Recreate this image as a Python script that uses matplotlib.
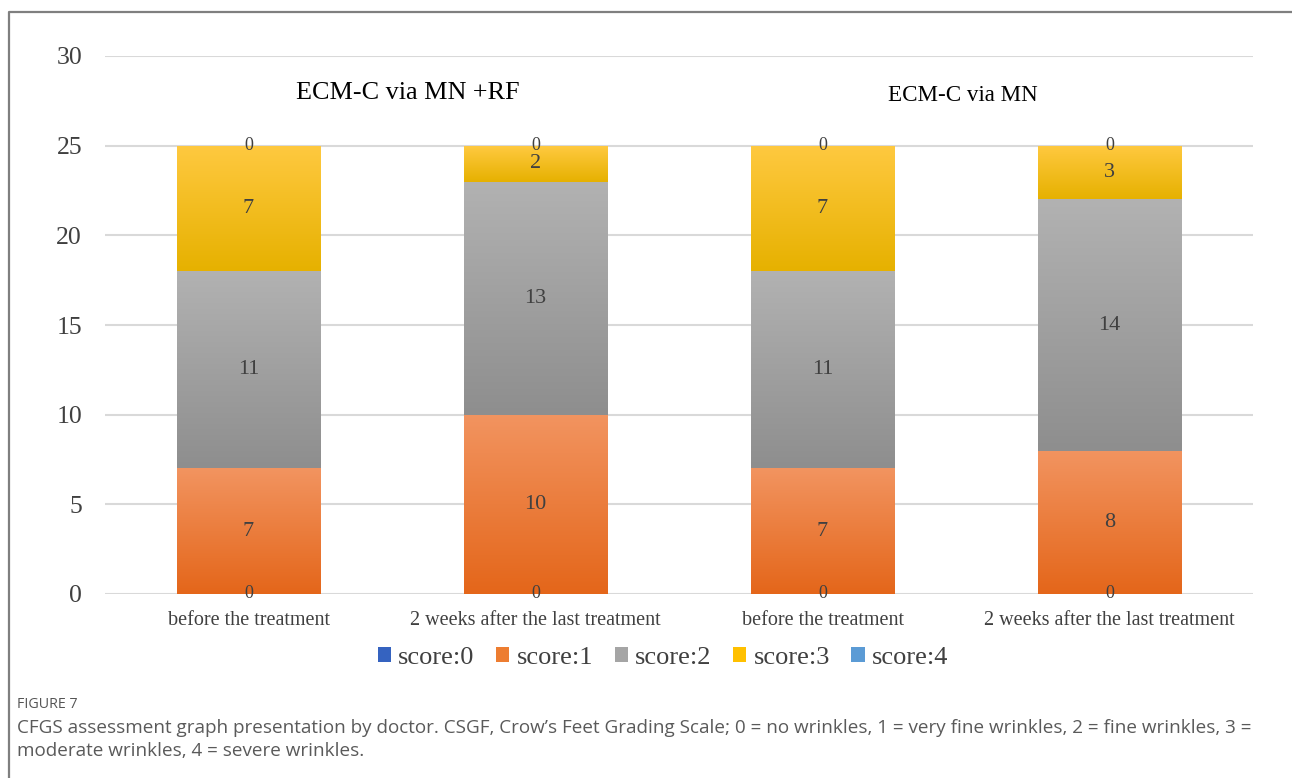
import numpy as np
import matplotlib
matplotlib.use("Agg")
import matplotlib.pyplot as plt
from matplotlib.lines import Line2D
from matplotlib.colors import LinearSegmentedColormap

categories = ["before the treatment", "2 weeks after the last treatment",
              "before the treatment", "2 weeks after the last treatment"]
series_names = ["score:0", "score:1", "score:2", "score:3", "score:4"]
score0 = [0, 0, 0, 0]
score1 = [7, 10, 7, 8]
score2 = [11, 13, 11, 14]
score3 = [7, 2, 7, 3]
score4 = [0, 0, 0, 0]
group_titles = ["ECM-C via MN +RF", "ECM-C via MN"]
yticks = [0, 5, 10, 15, 20, 25, 30]

series = [score0, score1, score2, score3, score4]
base_colors = ["#3563C0", "#ED7D31", "#A5A5A5", "#FFC000", "#5B9BD5"]
grad = [("#4472C4", "#2F5597"), ("#F29460", "#E4661A"), ("#B2B2B2", "#8E8E8E"),
        ("#FFC940", "#E6B100"), ("#6AA6DC", "#4A8ACA")]

serif = ["Liberation Serif", "DejaVu Serif"]

fig = plt.figure(figsize=(12.92, 7.78), dpi=100)
W, H = 1292, 778
ax = fig.add_axes([105 / W, 1 - 594 / H, (1253 - 105) / W, (594 - 56) / H])

x = np.arange(len(categories))
bottom = np.zeros(len(categories))
containers = []
for vals, name, bc, (ctop, cbot) in zip(series, series_names, base_colors, grad):
    bars = ax.bar(x, vals, width=0.5, bottom=bottom, color=bc, label=name, zorder=2)
    containers.append(bars)
    cmap = LinearSegmentedColormap.from_list(name, [cbot, ctop])
    g = np.linspace(0, 1, 256).reshape(-1, 1)
    for rect in bars:
        h = rect.get_height()
        if h <= 0:
            continue
        x0 = rect.get_x()
        y0 = rect.get_y()
        im = ax.imshow(g, cmap=cmap, aspect="auto", origin="lower",
                       extent=[x0, x0 + rect.get_width(), y0, y0 + h], zorder=2.5)
        im.set_clip_path(rect)
    bottom = bottom + np.array(vals)

# value labels
tot = np.zeros(len(categories))
for i, vals in enumerate(series):
    for j, v in enumerate(vals):
        yc = tot[j] + v / 2
        fs = 13 if v == 0 else 16
        ax.text(x[j], yc, str(v), ha="center", va="center", fontsize=fs,
                family=serif, color="#404040", zorder=4)
    tot = tot + np.array(vals)

ax.set_xlim(-0.5, len(categories) - 0.5)
ax.set_ylim(0, 30)
ax.set_yticks(yticks)
ax.set_xticks(x)
ax.set_xticklabels(categories, family=serif, fontsize=14.5, color="#404040")
for lab in ax.get_yticklabels():
    lab.set_family(serif)
    lab.set_fontsize(18.5)
    lab.set_color("#404040")
ax.tick_params(axis="both", length=0)
ax.tick_params(axis="y", pad=16.5)
ax.tick_params(axis="x", pad=12.5)
for s in ax.spines.values():
    s.set_visible(False)
ax.yaxis.grid(True, color="#D9D9D9", lw=1.5, zorder=0)
ax.set_axisbelow(True)

ax.text(0.556, 27.94, group_titles[0], ha="center", va="center",
        family=serif, fontsize=18.8, color="#000000")
ax.text(2.49, 27.8, group_titles[1], ha="center", va="center",
        family=serif, fontsize=16.6, color="#000000")

leg = fig.legend(handles=containers, labels=series_names, loc="center",
                 bbox_to_anchor=(663 / W, 1 - 658 / H), ncol=5, frameon=False,
                 prop={"family": serif, "size": 19}, handlelength=0.5,
                 handleheight=0.5, handletextpad=0.27, columnspacing=0.82,
                 labelcolor="#404040")

# caption
cap_font = ["Open Sans", "DejaVu Sans"]
fig.text(17 / W, 1 - 704 / H, "FIGURE 7", ha="left", va="center",
         family=cap_font, fontsize=10.3, color="#555555")
fig.text(17 / W, 1 - 728 / H,
         "CFGS assessment graph presentation by doctor. CSGF, Crow\u2019s Feet Grading Scale; 0 = no wrinkles, 1 = very fine wrinkles, 2 = fine wrinkles, 3 =",
         ha="left", va="center", family=cap_font, fontsize=13.6, color="#5A5A5A")
fig.text(17 / W, 1 - 751 / H, "moderate wrinkles, 4 = severe wrinkles.",
         ha="left", va="center", family=cap_font, fontsize=13.6, color="#5A5A5A")

# border
fig.add_artist(Line2D([9 / W, 9 / W, 1.0], [0.0, 1 - 12 / H, 1 - 12 / H],
                      transform=fig.transFigure, color="#7F7F7F", lw=1.6))

fig.savefig("out.png", dpi=100)
